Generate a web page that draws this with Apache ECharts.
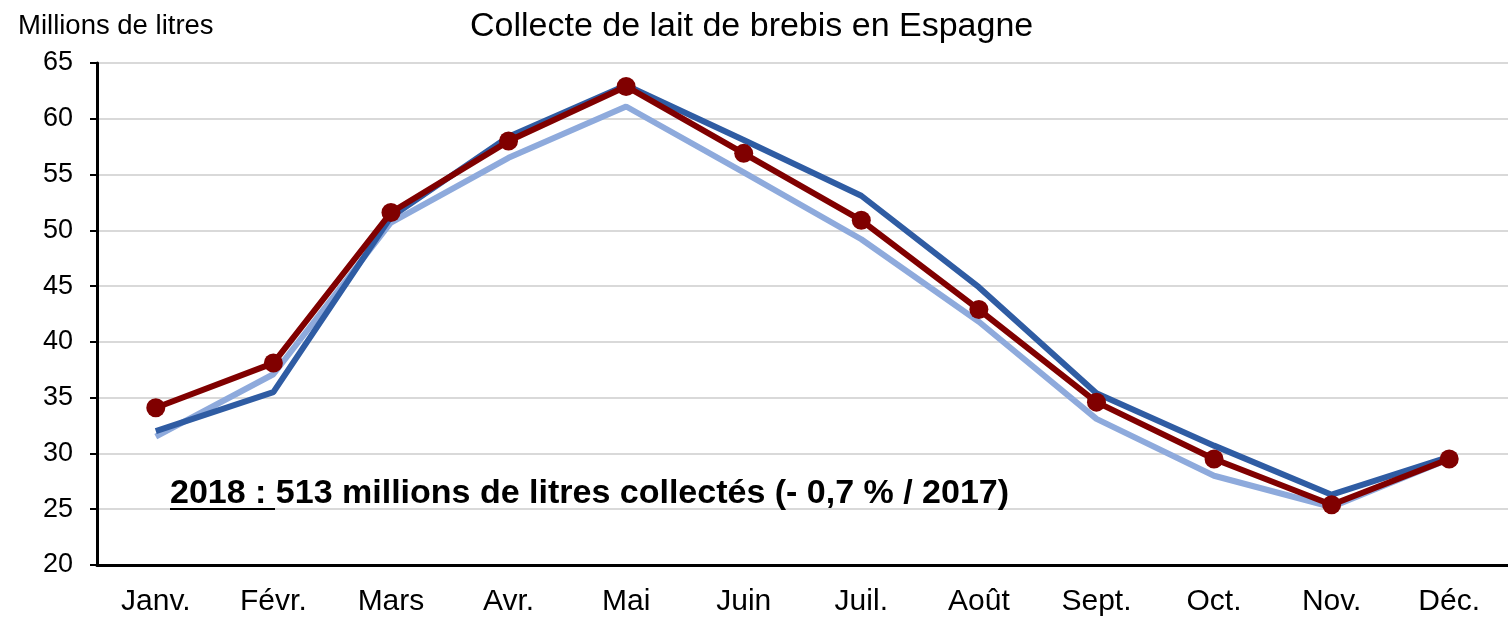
<!DOCTYPE html>
<html>
<head>
<meta charset="utf-8">
<script src="https://cdn.jsdelivr.net/npm/echarts@6/dist/echarts.min.js"></script>
<style>
	html, body { margin: 0; padding: 0; background: #fff; }
	#box { width: 1508px; height: 617px; }
</style>
</head>
<body>
<div id="box"></div>
<script>
var mois = ["Janv.", "Févr.", "Mars", "Avr.", "Mai", "Juin", "Juil.", "Août", "Sept.", "Oct.", "Nov.", "Déc."];
// millions de litres
var collecte2016 = [31.5, 37.1, 50.7, 56.5, 61.1, 55.2, 49.2, 41.8, 33.1, 28.0, 25.2, 29.5];
var collecte2017 = [32.0, 35.5, 51.2, 58.4, 63.0, 58.1, 53.1, 44.9, 35.4, 30.7, 26.3, 29.7];
var collecte2018 = [34.1, 38.1, 51.6, 58.0, 62.9, 56.9, 50.9, 42.9, 34.6, 29.5, 25.4, 29.5];
var note = "2018 : 513 millions de litres collectés (- 0,7 % / 2017)";

var font = "'Liberation Sans', Arial, sans-serif";
var myChart = echarts.init(document.getElementById("box"));

var option = {
	animation: false,
	title: [{
		text: "Collecte de lait de brebis en Espagne",
		left: 465,
		top: 5,
		textStyle: {
			fontFamily: font,
			fontSize: 34,
			fontWeight: 'normal',
			color: '#000'
		}
	}, {
		text: "Millions de litres",
		left: 13,
		top: 7,
		textStyle: {
			fontFamily: font,
			fontSize: 27.5,
			fontWeight: 'normal',
			color: '#000'
		}
	}],
	grid: {
		left: 97,
		right: -4,
		top: 63,
		bottom: 50
	},
	xAxis: {
		type: 'category',
		data: mois,
		boundaryGap: true,
		axisLine: {
			lineStyle: { color: '#000', width: 3 }
		},
		axisTick: {
			length: 7,
			interval: 0,
			lineStyle: { color: '#000', width: 2 }
		},
		axisLabel: {
			interval: 0,
			margin: 22,
			color: '#000',
			fontFamily: font,
			fontSize: 30
		}
	},
	yAxis: {
		type: 'value',
		min: 20,
		max: 65,
		interval: 5,
		axisLine: {
			show: true,
			lineStyle: { color: '#000', width: 3 }
		},
		axisTick: {
			show: true,
			length: 7,
			lineStyle: { color: '#000', width: 2 }
		},
		axisLabel: {
			margin: 24,
			color: '#000',
			fontFamily: font,
			fontSize: 27
		},
		splitLine: {
			lineStyle: { color: '#d9d9d9', width: 2 }
		}
	},
	graphic: [{
		type: 'text',
		left: 170,
		top: 477,
		z: 10,
		style: {
			text: note,
			font: "bold 34px " + font,
			fill: '#000'
		}
	}, {
		// soulignement de "2018 : "
		type: 'rect',
		left: 170,
		top: 508,
		z: 10,
		shape: { width: 105, height: 2 },
		style: { fill: '#000' }
	}],
	series: [{
		name: "2016",
		type: 'line',
		data: collecte2016,
		showSymbol: false,
		symbol: 'none',
		lineStyle: { color: '#8eaadc', width: 6 },
		z: 2
	}, {
		name: "2017",
		type: 'line',
		data: collecte2017,
		showSymbol: false,
		symbol: 'none',
		lineStyle: { color: '#2f5ca3', width: 6 },
		z: 3
	}, {
		name: "2018",
		type: 'line',
		data: collecte2018,
		symbol: 'circle',
		symbolSize: 19,
		itemStyle: { color: '#800000' },
		lineStyle: { color: '#800000', width: 6 },
		z: 4
	}]
};

myChart.clear();
myChart.setOption(option);
</script>
</body>
</html>
